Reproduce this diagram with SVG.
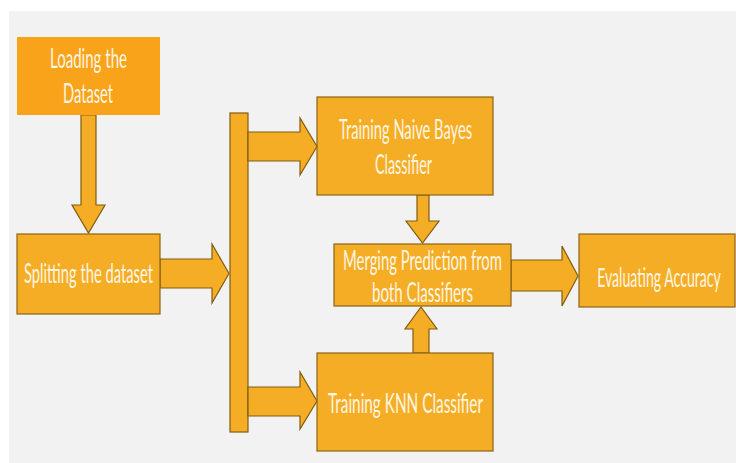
<svg xmlns="http://www.w3.org/2000/svg" width="736" height="463" viewBox="0 0 736 463">
<style>
.box{fill:#F5AD26;stroke:#8A6514;stroke-width:1.2}
.box0{fill:#F9A31B}
.arr{fill:#F5AD26;stroke:#7F5E10;stroke-width:1.2;stroke-linejoin:miter}
.t{font-family:Lato,"Open Sans","Liberation Sans",sans-serif;font-size:26px;fill:#FFF6E2;text-anchor:middle}
</style>
<rect x="0" y="0" width="736" height="463" fill="#FFFFFF"/>
<rect x="9" y="11" width="727" height="452" fill="#F2F2F2"/>
<g id="connectors">
<polygon class="arr" points="81,115 96,115 96,205 105,205 88.5,233 72,205 81,205"/>
<polygon class="arr" points="160,259 212,259 212,244 229,273.5 212,303 212,288 160,288"/>
<rect class="arr" x="230" y="113" width="18" height="319"/>
<polygon class="arr" points="248,132 300,132 300,118 317,146.5 300,175 300,161 248,161"/>
<polygon class="arr" points="248,387 300,387 300,372 317,401 300,429 300,416 248,416"/>
<polygon class="arr" points="417,195 429,195 429,221 439,221 422.5,243 406,221 417,221"/>
<polygon class="arr" points="413,353 429,353 429,329 437,329 421,307 405,329 413,329"/>
<polygon class="arr" points="511,260 562,260 562,246 578,276 562,306 562,291 511,291"/>
</g>
<g id="loading">
<rect class="box0" x="17" y="37" width="143" height="78"/>
<text class="t" x="88.5" y="68" textLength="77" lengthAdjust="spacingAndGlyphs">Loading the</text>
<text class="t" x="88" y="103" textLength="50" lengthAdjust="spacingAndGlyphs">Dataset</text>
</g>
<g id="splitting">
<rect class="box" x="17" y="234" width="143" height="80"/>
<text class="t" x="88.5" y="283" textLength="129" lengthAdjust="spacingAndGlyphs">Splitting the dataset</text>
</g>
<g id="naive-bayes">
<rect class="box" x="317" y="97" width="176" height="98"/>
<text class="t" x="405.5" y="139" textLength="133" lengthAdjust="spacingAndGlyphs">Training Naive Bayes</text>
<text class="t" x="403.5" y="174" textLength="57" lengthAdjust="spacingAndGlyphs">Classifier</text>
</g>
<g id="merging">
<rect class="box" x="334" y="244" width="177" height="62"/>
<text class="t" x="422.5" y="270" textLength="159" lengthAdjust="spacingAndGlyphs">Merging Prediction from</text>
<text class="t" x="422.5" y="302" textLength="101" lengthAdjust="spacingAndGlyphs">both Classifiers</text>
</g>
<g id="knn">
<rect class="box" x="317" y="353" width="176" height="98"/>
<text class="t" x="405.5" y="413" textLength="155" lengthAdjust="spacingAndGlyphs">Training KNN Classifier</text>
</g>
<g id="evaluating">
<rect class="box" x="579" y="234" width="156" height="73"/>
<text class="t" transform="translate(659,287) scale(0.55,1)" x="0" y="0" textLength="225" lengthAdjust="spacingAndGlyphs">Evaluating Accuracy</text>
</g>
</svg>
